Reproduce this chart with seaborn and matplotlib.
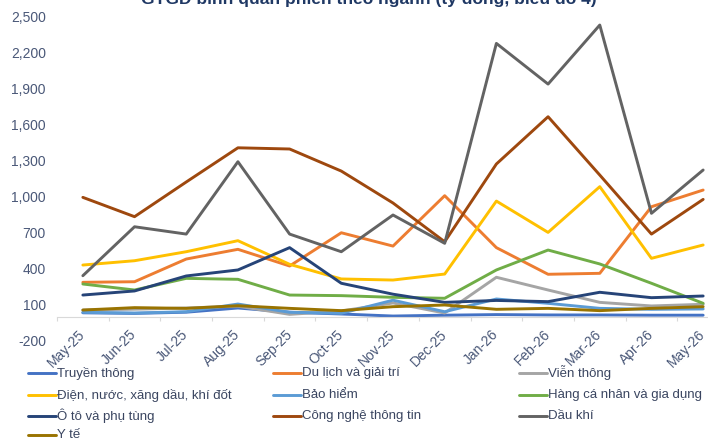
import pandas as pd
import matplotlib.pyplot as plt
import seaborn as sns
from matplotlib.lines import Line2D
from matplotlib.ticker import FuncFormatter

sns.set_theme(style="white")
plt.rcParams["font.family"] = ["Liberation Sans", "DejaVu Sans"]

# Du lieu doc tu bieu do (ty dong)
thang = ["May-25", "Jun-25", "Jul-25", "Aug-25", "Sep-25", "Oct-25", "Nov-25",
         "Dec-25", "Jan-26", "Feb-26", "Mar-26", "Apr-26", "May-26"]

truyen_thong = [35, 30, 40, 75, 40, 25, 8, 15, 20, 17, 17, 15, 15]
du_lich = [289, 294, 483, 564, 425, 702, 591, 1011, 578, 356, 364, 919, 1058]
vien_thong = [58, 65, 75, 90, 22, 50, 117, 33, 331, 225, 122, 92, 106]
dien_nuoc = [433, 469, 544, 636, 439, 317, 308, 358, 966, 705, 1086, 489, 600]
bao_hiem = [39, 33, 44, 108, 39, 31, 140, 44, 150, 114, 72, 64, 67]
hang_ca_nhan = [275, 225, 322, 314, 183, 178, 164, 156, 392, 558, 442, 281, 114]
o_to = [183, 217, 342, 392, 578, 281, 190, 122, 138, 128, 206, 161, 175]
cntt = [997, 836, 1125, 1410, 1400, 1216, 950, 627, 1275, 1669, 1183, 691, 980]
dau_khi = [344, 752, 691, 1294, 691, 544, 850, 614, 2280, 1941, 2433, 864, 1225]
y_te = [58, 78, 72, 94, 72, 53, 86, 100, 64, 72, 53, 72, 86]

nganh = ["Truyền thông", "Du lịch và giải trí", "Viễn thông",
         "Điện, nước, xăng dầu, khí đốt", "Bảo hiểm", "Hàng cá nhân và gia dụng",
         "Ô tô và phụ tùng", "Công nghệ thông tin", "Dầu khí", "Y tế"]
gia_tri = [truyen_thong, du_lich, vien_thong, dien_nuoc, bao_hiem, hang_ca_nhan,
           o_to, cntt, dau_khi, y_te]
mau = ["#4472C4", "#ED7D31", "#A5A5A5", "#FFC000", "#5B9BD5", "#70AD47",
       "#264478", "#9E480E", "#636363", "#997300"]

rows = []
for ten, vals in zip(nganh, gia_tri):
    for i, v in enumerate(vals):
        rows.append({"idx": i, "thang": thang[i], "nganh": ten, "gtgd": v})
df = pd.DataFrame(rows)

W, H = 708, 443
fig = plt.figure(figsize=(W / 100, H / 100), dpi=100)
ax = fig.add_axes([57 / W, 1 - 341 / H, 672 / W, 324 / H])

palette = dict(zip(nganh, mau))
sns.lineplot(data=df, x="idx", y="gtgd", hue="nganh", hue_order=nganh,
             palette=palette, linewidth=2.1, legend=False, sort=False, ax=ax)

ax.set_xlim(-0.5, 12.5)
ax.set_ylim(-200, 2500)
ax.set_yticks(range(-200, 2501, 300))
ax.yaxis.set_major_formatter(FuncFormatter(lambda v, p: f"{int(v):,}"))
ax.set_xlabel("")
ax.set_ylabel("")

txt_col = "#4A5878"
for s in ["top", "right", "left"]:
    ax.spines[s].set_visible(False)
ax.spines["bottom"].set_position(("data", 0))
ax.spines["bottom"].set_color("#D9D9D9")
ax.spines["bottom"].set_linewidth(0.8)

ax.set_xticks(range(len(thang)))
ax.set_xticks([i - 0.5 for i in range(len(thang) + 1)], minor=True)
ax.set_xticklabels(thang, rotation=45, ha="right", va="center",
                   rotation_mode="anchor", fontsize=10, color=txt_col)
ax.tick_params(axis="x", which="major", length=0, pad=11)
ax.tick_params(axis="x", which="minor", length=3, color="#D9D9D9",
               direction="out", bottom=True, width=0.8)
ax.tick_params(axis="y", length=0, pad=8, labelsize=10, labelcolor=txt_col)
ax.grid(False)

fig.text(0.521, 1 - 4 / H, "GTGD bình quân phiên theo ngành (tỷ đồng, biểu đồ 4)",
         ha="center", va="baseline", fontsize=12.5, fontweight="bold",
         color="#1F3864")

# chu giai 3 cot, xep theo hang (ve tay de cac cot thang hang)
cot_x = [28, 273, 519]
hang_y = [373, 395, 416, 435]
for i, (ten, c) in enumerate(zip(nganh, mau)):
    x0 = cot_x[i % 3]
    y0 = hang_y[i // 3]
    fig.add_artist(Line2D([x0 / W, (x0 + 28) / W], [1 - y0 / H, 1 - y0 / H],
                          color=c, lw=2.1, transform=fig.transFigure))
    fig.text((x0 + 29) / W, 1 - y0 / H, ten, ha="left", va="center",
             fontsize=9.5, color="#3A4560")

fig.savefig("out.png", dpi=100)
